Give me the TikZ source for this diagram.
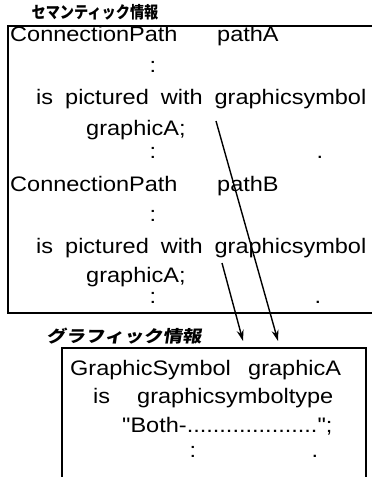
\documentclass[tikz,border=0pt]{standalone}
\usepackage{fontspec}
\setmainfont{Liberation Sans}[FakeStretch=1.12,Ligatures=TeXOff]
\newfontfamily\cjk{Noto Sans CJK JP}[FakeStretch=0.86]
\newfontfamily\cjkslant{Noto Sans CJK JP}[FakeStretch=1.18,FakeSlant=0.15]
\usetikzlibrary{arrows.meta}
\newcommand\widesp{\spaceskip=12pt\relax}
\begin{document}
\begin{tikzpicture}[x=1pt,y=-1pt,
  txt/.style={font=\fontsize{21}{25}\selectfont, inner sep=0pt, anchor=base west},
  ctxt/.style={font=\fontsize{21}{25}\selectfont, inner sep=0pt, anchor=base},
  frame/.style={line width=1.5pt},
  link/.style={line width=1.4pt, -{Stealth[length=11pt,width=7pt]}}]
\useasboundingbox (0,0) rectangle (372,477);
% titles
\node[font=\cjk\bfseries\fontsize{16.5}{18}\selectfont, inner sep=0pt] (t1) at (95,12) {セマンティック情報};
\node[font=\cjkslant\bfseries\fontsize{16.5}{18}\selectfont, inner sep=0pt] (t2) at (124,336) {グラフィック情報};
% top frame
\draw[frame] (372,26) -- (8,26) -- (8,313) -- (372,313);
% bottom frame
\draw[frame] (62,477) -- (62,348) -- (366,348) -- (366,477);
% semantic text
\node[txt] (a1) at (10,41) {ConnectionPath};
\node[txt] (a2) at (217,41) {pathA};
\node[ctxt] (a3) at (153,72) {:};
\node[txt] (a4) at (36,104) {\widesp is pictured with graphicsymbol};
\node[txt] (a5) at (86,135) {graphicA;};
\node[ctxt] (a6) at (153,158) {:};
\node[ctxt] (a7) at (320,158) {.};
\node[txt] (b1) at (10,191) {ConnectionPath};
\node[txt] (b2) at (217,191) {pathB};
\node[ctxt] (b3) at (153,221) {:};
\node[txt] (b4) at (36,253) {\widesp is pictured with graphicsymbol};
\node[txt] (b5) at (86,282) {graphicA;};
\node[ctxt] (b6) at (153,303) {:};
\node[ctxt] (b7) at (318,303) {.};
% graphic text
\node[txt] (c1) at (70,375) {GraphicSymbol};
\node[txt] (c2) at (248,375) {graphicA};
\node[txt] (c3) at (93,403) {is};
\node[txt] (c4) at (137,403) {graphicsymboltype};
\node[txt] (c5) at (122,432) {"Both-....................";};
\node[ctxt] (c6) at (193,457) {:};
\node[ctxt] (c7) at (315,457) {.};
% connectors
\coordinate (s1) at (216,121);
\coordinate (s2) at (222,263);
\coordinate (e1) at (278,341);
\coordinate (e2) at (243,341);
\draw[link] (s1) -- (e1);
\draw[link] (s2) -- (e2);
\end{tikzpicture}
\end{document}
